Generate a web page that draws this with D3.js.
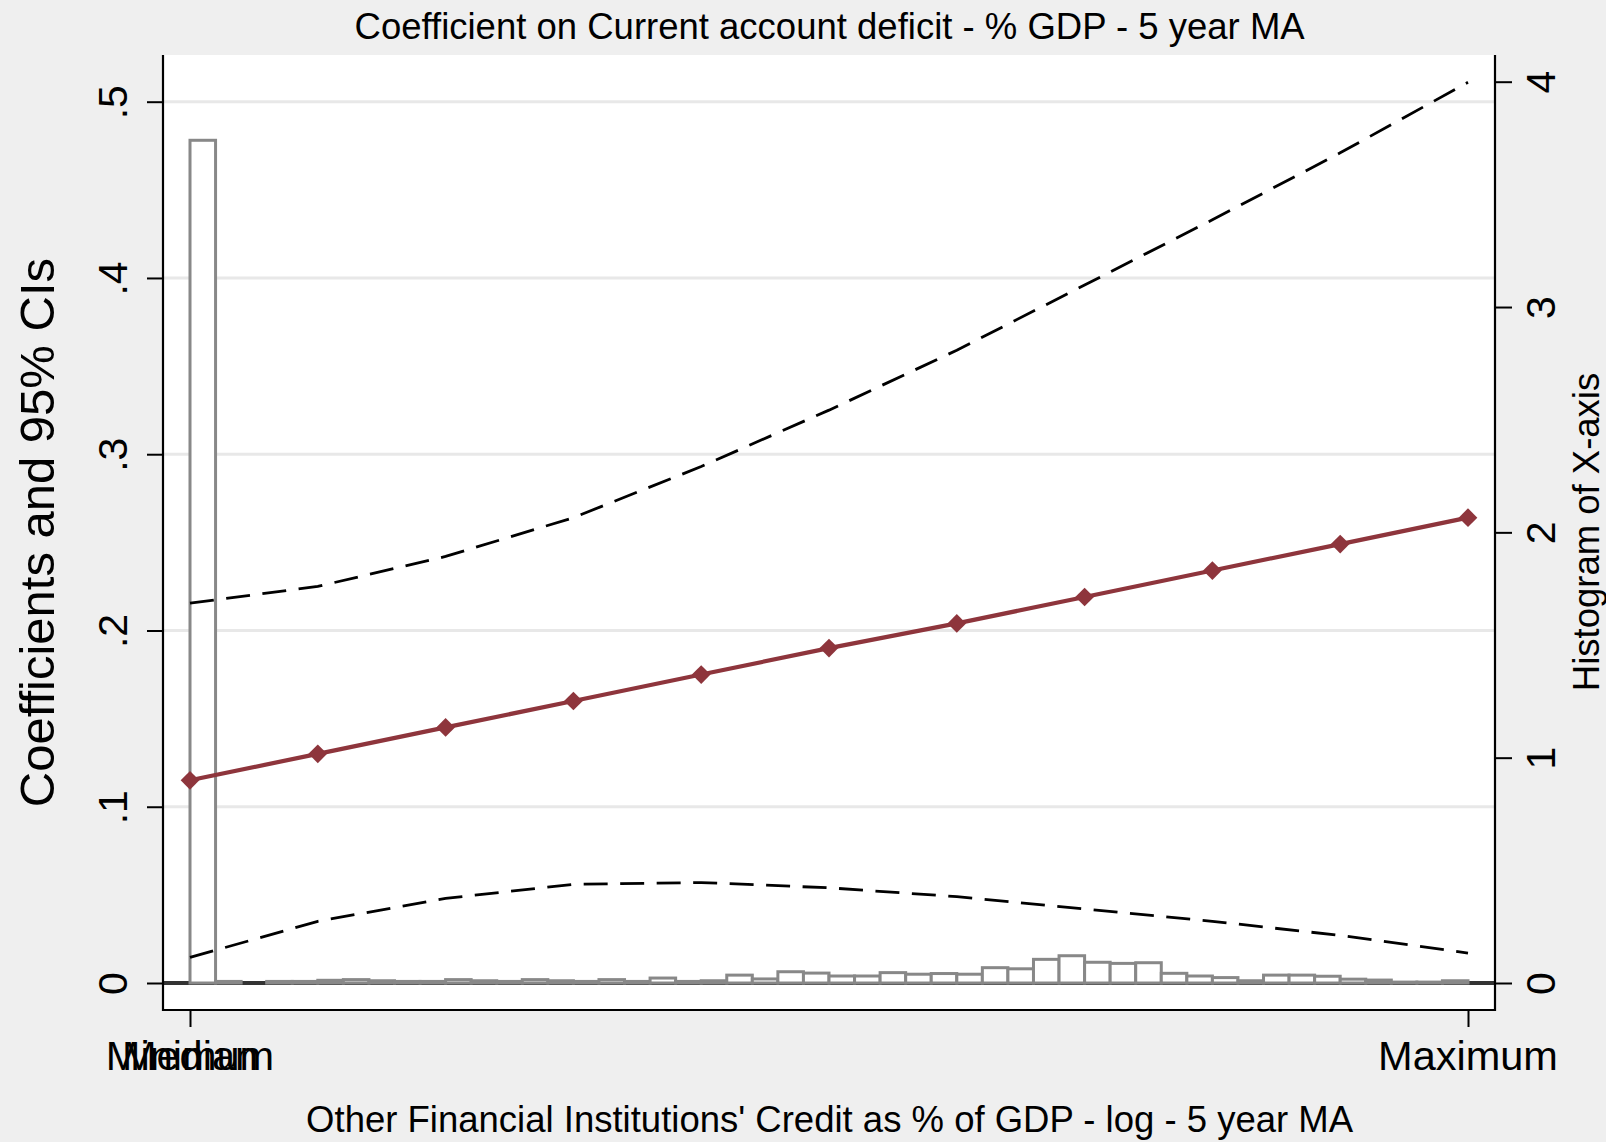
<!DOCTYPE html>
<html>
<head>
<meta charset="utf-8">
<script src="https://cdn.jsdelivr.net/npm/d3@7"></script>
<style>
  html, body { margin: 0; padding: 0; background: #efefef; }
  svg { display: block; }
  text { font-family: "Liberation Sans", Arial, Helvetica, sans-serif; fill: #000; }
</style>
</head>
<body>
<svg id="chart" width="1606" height="1142"></svg>
<script>
// Evaluation points along the x-axis (0 = minimum, 10 = maximum)
const evalPoints = [0, 1, 2, 3, 4, 5, 6, 7, 8, 9, 10];
// Marginal coefficient and 95% confidence bounds at each evaluation point
const coefficient = [0.115, 0.130, 0.145, 0.160, 0.175, 0.190, 0.204, 0.219, 0.234, 0.249, 0.264];
const upperCI = [0.2155, 0.225, 0.242, 0.264, 0.293, 0.325, 0.359, 0.396, 0.433, 0.471, 0.511];
const lowerCI = [0.0145, 0.035, 0.048, 0.056, 0.057, 0.054, 0.049, 0.042, 0.035, 0.027, 0.017];
// Histogram of the x variable: 50 equal-width bins from minimum to maximum (density)
const histDensity = [
  3.74, 0.007, 0.000, 0.007, 0.007, 0.012, 0.015, 0.010, 0.007, 0.007,
  0.015, 0.010, 0.007, 0.015, 0.010, 0.007, 0.015, 0.007, 0.022, 0.007,
  0.010, 0.035, 0.018, 0.050, 0.044, 0.031, 0.031, 0.046, 0.039, 0.042,
  0.039, 0.068, 0.063, 0.105, 0.121, 0.092, 0.087, 0.090, 0.043, 0.031,
  0.024, 0.010, 0.035, 0.035, 0.030, 0.017, 0.013, 0.004, 0.004, 0.010
];
// Axis ticks and labels
const leftTicks = [0, 0.1, 0.2, 0.3, 0.4, 0.5];
const leftTickLabels = ["0", ".1", ".2", ".3", ".4", ".5"];
const rightTicks = [0, 1, 2, 3, 4];
const xTickPositions = [0, 0, 10];
const xTickLabels = ["Minimum", "Median", "Maximum"];
const titleText = "Coefficient on Current account deficit - % GDP - 5 year MA";
const xTitle = "Other Financial Institutions' Credit as % of GDP - log - 5 year MA";
const yTitle = "Coefficients and 95% CIs";
const y2Title = "Histogram of X-axis";

const W = 1606, H = 1142;
const plot = { left: 163, right: 1495, top: 55, bottom: 1010 };

const svg = d3.select("#chart");
svg.append("rect").attr("width", W).attr("height", H).attr("fill", "#efefef");
svg.append("rect")
  .attr("x", plot.left).attr("y", plot.top)
  .attr("width", plot.right - plot.left).attr("height", plot.bottom - plot.top)
  .attr("fill", "#ffffff");

const x = d3.scaleLinear().domain([0, 10]).range([190, 1468]);
const yL = d3.scaleLinear().domain([0, 0.5]).range([983, 101.7]);
const yR = d3.scaleLinear().domain([0, 4]).range([983, 81.7]);

// Horizontal grid lines
svg.append("g").selectAll("line")
  .data(leftTicks.filter(d => d > 0))
  .join("line")
  .attr("x1", plot.left).attr("x2", plot.right)
  .attr("y1", d => yL(d)).attr("y2", d => yL(d))
  .attr("stroke", "#e8e8e8").attr("stroke-width", 3);

// Zero reference line
svg.append("line")
  .attr("x1", plot.left).attr("x2", plot.right)
  .attr("y1", yL(0)).attr("y2", yL(0))
  .attr("stroke", "#333333").attr("stroke-width", 4);

// Histogram bars on the secondary axis
const binW = (x(10) - x(0)) / histDensity.length;
svg.append("g").selectAll("rect")
  .data(histDensity)
  .join("rect")
  .attr("x", (d, i) => x(0) + i * binW)
  .attr("width", binW)
  .attr("y", d => yR(d))
  .attr("height", d => yR(0) - yR(d))
  .attr("fill", "#ffffff")
  .attr("stroke", "#888888")
  .attr("stroke-width", 3);

// Confidence bounds
const ciLine = vals => d3.line().x((d, i) => x(evalPoints[i])).y(d => yL(d))(vals);
[upperCI, lowerCI].forEach(vals => {
  svg.append("path")
    .attr("d", ciLine(vals))
    .attr("fill", "none")
    .attr("stroke", "#000")
    .attr("stroke-width", 2.8)
    .attr("stroke-dasharray", "24,12.5");
});

// Coefficient line with diamond markers
const red = "#8e353c";
svg.append("path")
  .attr("d", ciLine(coefficient))
  .attr("fill", "none")
  .attr("stroke", red)
  .attr("stroke-width", 4.2);
svg.append("g").selectAll("path")
  .data(coefficient)
  .join("path")
  .attr("d", d3.symbol().type(d3.symbolSquare).size(175))
  .attr("transform", (d, i) => `translate(${x(evalPoints[i])},${yL(d)}) rotate(45)`)
  .attr("fill", red);

// Frame (left, right, bottom)
const frame = svg.append("g").attr("stroke", "#000").attr("stroke-width", 2.2);
frame.append("line").attr("x1", plot.left).attr("x2", plot.left).attr("y1", plot.top).attr("y2", plot.bottom + 1);
frame.append("line").attr("x1", plot.right).attr("x2", plot.right).attr("y1", plot.top).attr("y2", plot.bottom + 1);
frame.append("line").attr("x1", plot.left).attr("x2", plot.right).attr("y1", plot.bottom).attr("y2", plot.bottom);

// Left axis
const gL = svg.append("g").attr("transform", `translate(${plot.left},0)`)
  .call(d3.axisLeft(yL).tickValues(leftTicks).tickSize(16).tickSizeOuter(0)
    .tickFormat((d, i) => leftTickLabels[i]));
gL.select(".domain").remove();
gL.selectAll(".tick line").attr("stroke", "#000").attr("stroke-width", 2);
gL.selectAll(".tick text")
  .attr("transform", "rotate(-90)")
  .attr("x", 0).attr("y", -36).attr("dy", 0)
  .attr("text-anchor", "middle")
  .style("font-size", "41px");

// Right axis
const gR = svg.append("g").attr("transform", `translate(${plot.right},0)`)
  .call(d3.axisRight(yR).tickValues(rightTicks).tickSize(17).tickSizeOuter(0)
    .tickFormat(d3.format("d")));
gR.select(".domain").remove();
gR.selectAll(".tick line").attr("stroke", "#000").attr("stroke-width", 2);
gR.selectAll(".tick text")
  .attr("transform", "rotate(-90)")
  .attr("x", 0).attr("y", 60).attr("dy", 0)
  .attr("text-anchor", "middle")
  .style("font-size", "41px");

// Bottom axis: minimum and median share a position
const gB = svg.append("g").attr("transform", `translate(0,${plot.bottom})`)
  .call(d3.axisBottom(x).tickValues([0, 10]).tickSize(17).tickSizeOuter(0).tickFormat(""));
gB.select(".domain").remove();
gB.selectAll(".tick line").attr("stroke", "#000").attr("stroke-width", 2);
gB.selectAll("text.xlab")
  .data(xTickLabels)
  .join("text")
  .attr("class", "xlab")
  .attr("x", (d, i) => x(xTickPositions[i]))
  .attr("y", 59.5)
  .attr("text-anchor", "middle")
  .style("font-size", "41.5px")
  .text(d => d);

// Titles
svg.append("text")
  .attr("x", 829.6).attr("y", 38.5)
  .attr("text-anchor", "middle")
  .style("font-size", "36.5px")
  .text(titleText);
svg.append("text")
  .attr("x", 829.6).attr("y", 1132)
  .attr("text-anchor", "middle")
  .style("font-size", "36.5px")
  .text(xTitle);
svg.append("text")
  .attr("transform", `translate(54,532.6) rotate(-90)`)
  .attr("text-anchor", "middle")
  .style("font-size", "49px")
  .text(yTitle);
svg.append("text")
  .attr("transform", `translate(1599,532) rotate(-90)`)
  .attr("text-anchor", "middle")
  .style("font-size", "36.5px")
  .text(y2Title);
</script>
</body>
</html>
